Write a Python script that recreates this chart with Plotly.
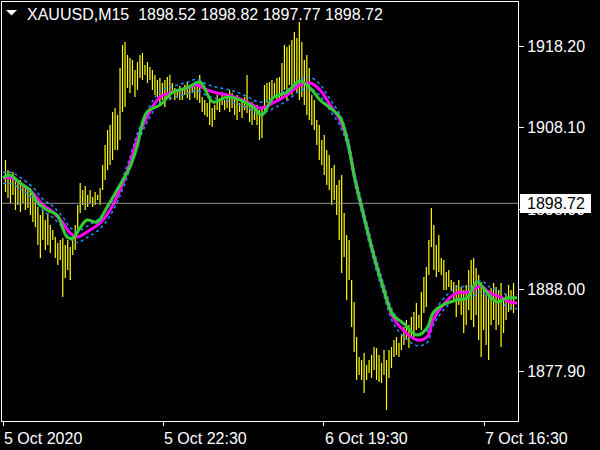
import plotly.graph_objects as go

# ---------------- data ----------------
symbol = "XAUUSD,M15"
ohlc_header = [1898.52, 1898.82, 1897.77, 1898.72]
last_price = 1898.72

bar_high = [
    1904.09, 1902.85, 1902.23, 1902.60, 1901.98, 1901.36, 1901.61, 1900.74, 1900.99, 1900.37,
    1900.62, 1899.75, 1899.13, 1898.27, 1897.28, 1897.89, 1896.65, 1897.52, 1896.04, 1895.41,
    1894.55, 1893.81, 1894.17, 1894.42, 1893.56, 1894.17, 1893.31, 1894.80, 1896.04, 1898.51,
    1901.24, 1900.37, 1900.86, 1899.75, 1900.37, 1899.51, 1900.12, 1899.75, 1900.62, 1903.47,
    1905.95, 1907.80, 1908.43, 1910.03, 1910.53, 1909.67, 1915.48, 1918.34, 1918.71, 1917.10,
    1916.72, 1916.48, 1915.24, 1916.23, 1917.10, 1917.35, 1915.86, 1916.23, 1915.61, 1915.24,
    1914.62, 1914.00, 1914.25, 1913.63, 1914.00, 1914.37, 1914.62, 1913.63, 1913.01, 1912.51,
    1913.25, 1912.76, 1913.38, 1913.75, 1913.01, 1913.50, 1913.25, 1913.75, 1914.62, 1911.90,
    1911.52, 1911.15, 1911.52, 1910.53, 1910.91, 1912.14, 1911.77, 1912.51, 1911.52, 1912.26,
    1912.76, 1912.39, 1911.77, 1912.14, 1911.15, 1911.52, 1911.90, 1914.62, 1910.91, 1911.27,
    1910.53, 1910.91, 1910.28, 1910.53, 1913.38, 1913.63, 1913.75, 1914.00, 1913.63, 1914.25,
    1914.37, 1916.11, 1918.34, 1918.09, 1918.34, 1918.95, 1919.95, 1919.20, 1921.18, 1918.71,
    1916.48, 1917.10, 1915.48, 1912.14, 1911.52, 1909.04, 1908.43, 1906.56, 1907.19, 1905.33,
    1904.71, 1903.09, 1903.47, 1900.99, 1901.61, 1902.23, 1897.52, 1894.80, 1894.17, 1889.22,
    1886.49, 1882.16, 1879.68, 1879.31, 1880.18, 1878.69, 1879.31, 1879.93, 1880.92, 1880.79,
    1879.93, 1878.94, 1880.55, 1879.31, 1880.55, 1880.92, 1881.78, 1882.16, 1881.41, 1882.40,
    1883.40, 1884.26, 1883.65, 1884.64, 1885.25, 1886.37, 1884.89, 1887.73, 1889.59, 1890.83,
    1894.17, 1898.14, 1896.04, 1893.56, 1894.80, 1891.94, 1891.70, 1890.21, 1890.46, 1889.22,
    1888.97, 1888.60, 1889.22, 1888.35, 1887.97, 1888.60, 1890.46, 1891.70, 1891.94, 1890.70,
    1889.84, 1888.97, 1887.97, 1887.36, 1887.73, 1888.23, 1888.85, 1888.35, 1887.97, 1888.85,
    1887.12, 1887.36, 1888.60, 1887.97, 1888.85,
]
bar_low = [
    1900.12, 1899.38, 1898.76, 1899.75, 1897.89, 1898.51, 1897.64, 1898.76, 1897.89, 1898.14,
    1897.28, 1896.40, 1895.79, 1893.56, 1891.94, 1894.17, 1892.94, 1893.56, 1892.57, 1894.17,
    1891.94, 1891.08, 1891.70, 1887.12, 1889.47, 1890.46, 1889.22, 1892.32, 1892.94, 1895.05,
    1897.52, 1898.51, 1897.89, 1898.27, 1898.76, 1898.27, 1898.51, 1899.13, 1898.51, 1900.37,
    1901.61, 1902.85, 1903.47, 1904.09, 1905.33, 1905.33, 1906.56, 1910.03, 1910.66, 1913.01,
    1912.39, 1913.38, 1911.90, 1912.76, 1914.25, 1914.00, 1914.62, 1913.63, 1914.00, 1912.76,
    1912.14, 1911.90, 1910.91, 1911.52, 1910.66, 1911.77, 1911.52, 1912.39, 1911.52, 1911.77,
    1911.52, 1911.52, 1912.14, 1911.77, 1911.52, 1912.39, 1911.77, 1911.52, 1911.15, 1910.03,
    1909.67, 1909.42, 1908.43, 1908.18, 1909.04, 1910.28, 1910.03, 1910.91, 1910.28, 1910.53,
    1910.03, 1910.53, 1909.67, 1909.04, 1910.03, 1909.29, 1910.28, 1909.91, 1908.79, 1908.43,
    1909.04, 1908.43, 1906.56, 1906.81, 1910.28, 1911.15, 1911.52, 1911.15, 1911.90, 1911.52,
    1911.52, 1911.90, 1912.76, 1911.52, 1913.38, 1912.14, 1913.01, 1912.51, 1911.52, 1911.90,
    1910.91, 1909.67, 1909.04, 1908.43, 1907.80, 1905.95, 1904.09, 1903.47, 1902.23, 1900.99,
    1900.37, 1898.51, 1899.13, 1897.28, 1894.17, 1890.09, 1892.07, 1886.74, 1889.22, 1883.40,
    1880.30, 1876.83, 1877.45, 1876.83, 1875.22, 1876.83, 1877.70, 1877.08, 1878.07, 1876.83,
    1876.58, 1876.46, 1877.45, 1873.11, 1877.08, 1878.31, 1879.68, 1879.93, 1879.68, 1880.55,
    1881.17, 1881.78, 1880.79, 1882.16, 1882.16, 1883.02, 1883.27, 1883.02, 1885.13, 1885.88,
    1889.84, 1893.31, 1890.46, 1889.59, 1890.21, 1889.84, 1887.97, 1887.97, 1888.35, 1887.97,
    1886.74, 1884.64, 1886.13, 1884.89, 1882.65, 1883.65, 1885.50, 1884.26, 1883.40, 1884.89,
    1881.78, 1879.68, 1883.02, 1881.17, 1879.31, 1883.65, 1884.26, 1883.02, 1883.65, 1880.92,
    1882.65, 1884.26, 1885.25, 1885.50, 1885.13,
]
bar_pos = list(range(1, len(bar_high) + 1))

magenta_x = [0, 3.6, 6.8, 12.0, 16.1, 20.1, 24.1, 26.9, 29.7, 33.7,
             39.0, 43.0, 47.0, 51.0, 53.8, 57.8, 63.1, 68.3, 73.9, 77.9,
             81.9, 85.9, 90.0, 94.0, 98.0, 103.2, 108.4, 114.1, 119.3, 123.3,
             127.3, 131.3, 135.3, 138.2, 141.4, 144.6, 148.6, 152.6, 156.6, 160.6,
             166.3, 170.3, 172.7, 176.7, 182.3, 187.6, 191.6, 195.6, 199.6, 203.6, 206.4]
magenta_ma = [1901.86, 1901.86, 1901.24, 1900.00, 1898.51, 1897.64, 1896.28, 1895.05, 1894.55, 1895.17,
              1896.28, 1897.89, 1900.37, 1903.72, 1906.56, 1909.42, 1911.90, 1912.51, 1913.01, 1913.38,
              1912.76, 1912.39, 1912.14, 1911.77, 1911.27, 1910.53, 1911.15, 1912.14, 1913.38, 1913.63,
              1912.76, 1910.91, 1909.04, 1906.56, 1901.61, 1897.52, 1892.57, 1888.35, 1884.64, 1883.02,
              1881.78, 1882.16, 1884.26, 1886.13, 1887.61, 1887.73, 1888.47, 1887.61, 1887.12, 1886.49, 1886.37]
band_upper = [1902.56, 1902.56, 1901.94, 1900.70, 1899.21, 1898.34, 1896.98, 1895.75, 1895.25, 1895.87,
              1896.98, 1898.59, 1901.07, 1904.42, 1907.26, 1910.12, 1912.60, 1913.21, 1913.71, 1914.08,
              1913.46, 1913.09, 1912.84, 1912.47, 1911.97, 1911.23, 1911.85, 1912.84, 1914.08, 1914.33,
              1913.46, 1911.61, 1909.74, 1907.26, 1902.31, 1898.22, 1893.27, 1889.05, 1885.34, 1883.72,
              1882.48, 1882.86, 1884.96, 1886.83, 1888.31, 1888.43, 1889.17, 1888.31, 1887.82, 1887.19, 1887.07]
band_lower = [1901.16, 1901.16, 1900.54, 1899.30, 1897.81, 1896.94, 1895.58, 1894.35, 1893.85, 1894.47,
              1895.58, 1897.19, 1899.67, 1903.02, 1905.86, 1908.72, 1911.20, 1911.81, 1912.31, 1912.68,
              1912.06, 1911.69, 1911.44, 1911.07, 1910.57, 1909.83, 1910.45, 1911.44, 1912.68, 1912.93,
              1912.06, 1910.21, 1908.34, 1905.86, 1900.91, 1896.82, 1891.87, 1887.65, 1883.94, 1882.32,
              1881.08, 1881.46, 1883.56, 1885.43, 1886.91, 1887.03, 1887.77, 1886.91, 1886.42, 1885.79, 1885.67]

green_x = [0, 2.8, 6.8, 10.8, 13.7, 17.7, 21.7, 25.7, 28.1, 30.9,
           33.7, 37.8, 41.8, 45.8, 51.0, 53.8, 57.8, 63.1, 68.3, 73.9,
           79.1, 84.3, 90.0, 95.2, 100.4, 104.0, 108.4, 114.1, 119.3, 123.3,
           127.3, 131.3, 135.3, 138.2, 141.4, 144.6, 148.6, 152.6, 156.6, 160.6,
           166.3, 170.3, 172.7, 176.7, 182.3, 186.3, 190.4, 194.4, 198.4, 202.4, 206.4]
green_ma = [1901.86, 1902.23, 1901.24, 1900.37, 1898.88, 1897.89, 1897.28, 1894.55, 1894.42, 1895.66,
            1896.65, 1896.40, 1898.27, 1900.37, 1903.22, 1905.70, 1910.03, 1910.91, 1912.51, 1913.01,
            1913.75, 1911.27, 1911.90, 1911.52, 1910.66, 1909.67, 1911.77, 1912.51, 1913.88, 1913.01,
            1911.52, 1910.53, 1909.42, 1906.56, 1901.61, 1897.52, 1892.57, 1888.35, 1884.89, 1883.90,
            1882.40, 1883.27, 1885.13, 1886.13, 1886.74, 1886.99, 1888.97, 1887.61, 1886.49, 1886.99, 1886.99]

x_tick_pos = [0, 64.4, 128.7, 193.2]
x_tick_labels = ["5 Oct 2020", "5 Oct 22:30", "6 Oct 19:30", "7 Oct 16:30"]
y_tick_vals = [1877.90, 1888.00, 1898.00, 1908.10, 1918.20]
y_tick_labels = ["1877.90", "1888.00", "1898.00", "1908.10", "1918.20"]

# ---------------- layout helpers (pixel geometry) ----------------
W, H = 600, 450
PL, PR, PT, PB = 2, 518, 2, 421
FONT = "Liberation Sans, Arial, sans-serif"
FS = 16


def px_x(px):
    return (px - PL) / (PR - PL)


def px_y(py):
    return (PB - py) / (PB - PT)


bx, by = [], []
for i, h, l in zip(bar_pos, bar_high, bar_low):
    bx += [i, i, None]
    by += [l, h, None]

fig = go.Figure()
fig.add_trace(go.Scatter(x=bx, y=by, mode="lines",
                         line=dict(color="#FFFF00", width=1.2), hoverinfo="skip"))
for band in (band_upper, band_lower):
    fig.add_trace(go.Scatter(x=magenta_x, y=band, mode="lines",
                             line=dict(color="#1E90FF", width=1.5, dash="3px,3px", shape="spline"),
                             hoverinfo="skip"))
fig.add_trace(go.Scatter(x=magenta_x, y=magenta_ma, mode="lines",
                         line=dict(color="#FF00FF", width=3, shape="spline"), hoverinfo="skip"))
fig.add_trace(go.Scatter(x=green_x, y=green_ma, mode="lines",
                         line=dict(color="#32CD32", width=3, shape="spline"), hoverinfo="skip"))

axis_common = dict(showgrid=False, zeroline=False, showline=True, linecolor="white",
                   linewidth=1, mirror=True, ticks="outside", tickcolor="white",
                   tickfont=dict(color="white", size=FS, family=FONT), fixedrange=True,
                   automargin=False)

fig.update_layout(
    width=W, height=H,
    margin=dict(l=PL, r=W - PR, t=PT, b=H - PB, pad=0),
    paper_bgcolor="black", plot_bgcolor="black",
    showlegend=False,
    xaxis=dict(range=[-0.4, 206.8], tickvals=x_tick_pos, ticktext=x_tick_labels,
               ticklen=4, showticklabels=False, **axis_common),
    yaxis=dict(range=[1871.75, 1923.66], side="right", tickvals=y_tick_vals,
               ticktext=y_tick_labels, ticklen=5, **axis_common),
)

# time labels, left-aligned at their tick (MetaTrader style)
for pos, lab in zip(x_tick_pos, x_tick_labels):
    fig.add_annotation(xref="x", yref="paper", x=pos, y=px_y(438), xanchor="left",
                       yanchor="middle", xshift=-1, text=lab, showarrow=False,
                       font=dict(color="white", size=FS, family=FONT))

# last price line and price label
fig.add_shape(type="line", xref="paper", yref="y", x0=0, x1=1, y0=last_price, y1=last_price,
              line=dict(color="#909090", width=1))
fig.add_shape(type="rect", xref="paper", yref="paper", x0=px_x(520), x1=px_x(591),
              y0=px_y(213), y1=px_y(194), fillcolor="white", line=dict(width=0), layer="above")
fig.add_annotation(xref="paper", yref="y", x=px_x(525), y=last_price, xanchor="left",
                   yanchor="middle", text=f"{last_price:.2f}", showarrow=False,
                   font=dict(color="black", size=FS, family=FONT))

# header: triangle + symbol/OHLC text
fig.add_shape(type="path", xref="paper", yref="paper",
              path=f"M {px_x(6)},{px_y(10)} L {px_x(17)},{px_y(10)} L {px_x(11.5)},{px_y(15.5)} Z",
              fillcolor="white", line=dict(color="white", width=0), layer="above")
header = symbol + "\u00a0\u00a0" + " ".join(f"{v:.2f}" for v in ohlc_header)
fig.add_annotation(xref="paper", yref="paper", x=px_x(25), y=px_y(14), xanchor="left",
                   yanchor="middle", text=header, showarrow=False,
                   font=dict(color="white", size=FS, family=FONT))

fig.write_html("out.html", config=dict(displayModeBar=False, staticPlot=True),
               post_script="document.body.style.margin='0';document.body.style.overflow='hidden';")
